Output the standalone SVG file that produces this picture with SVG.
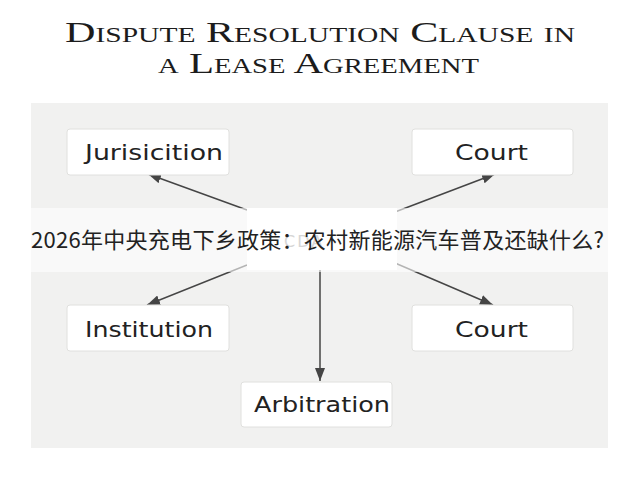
<svg xmlns="http://www.w3.org/2000/svg" width="640" height="480" viewBox="0 0 640 480">
<style>
.title{font-family:"Liberation Serif","Times New Roman",serif;font-size:30px;font-variant:small-caps;fill:#1c1c1c}
.box{fill:#ffffff;stroke:#e0e0de;stroke-width:1}
.lbl{font-family:"DejaVu Sans","Noto Sans",sans-serif;font-size:21px;fill:#222;text-anchor:middle}
.con{stroke:#454545;stroke-width:1.5;fill:none;marker-end:url(#ah)}
.cn{font-family:"Noto Sans CJK SC","Noto Sans",sans-serif;font-size:22px;fill:#222}
</style>
<defs>
<marker id="ah" markerUnits="userSpaceOnUse" markerWidth="14" markerHeight="10" refX="13" refY="5" orient="auto">
<path d="M0,0 L13,5 L0,10 z" fill="#454545"/>
</marker>
</defs>
<rect width="640" height="480" fill="#ffffff"/>
<text class="title" x="65" y="42" textLength="510" lengthAdjust="spacingAndGlyphs">Dispute Resolution Clause in</text>
<text class="title" x="158" y="73" textLength="321" lengthAdjust="spacingAndGlyphs">a Lease Agreement</text>
<rect x="31" y="103" width="577" height="345" fill="#f1f1f0"/>
<g id="connectors">
<line class="con" x1="247" y1="210" x2="148" y2="174"/>
<line class="con" x1="395" y1="212" x2="495" y2="174"/>
<line class="con" x1="247" y1="265" x2="147" y2="305"/>
<line class="con" x1="395" y1="263" x2="493" y2="305"/>
<line class="con" x1="320" y1="270" x2="320" y2="381"/>
</g>
<g id="node-center">
<rect x="247" y="208" width="150" height="62" fill="#ffffff"/>
</g>
<g id="node-jurisdiction">
<rect class="box" x="67" y="129" width="162" height="46" rx="3"/>
<text class="lbl" x="154" y="160" textLength="138" lengthAdjust="spacingAndGlyphs">Jurisicition</text>
</g>
<g id="node-court-top">
<rect class="box" x="412" y="129" width="161" height="46" rx="3"/>
<text class="lbl" x="491.5" y="160" textLength="73" lengthAdjust="spacingAndGlyphs">Court</text>
</g>
<g id="node-institution">
<rect class="box" x="67" y="305" width="162" height="46" rx="3"/>
<text class="lbl" x="149" y="337" textLength="128" lengthAdjust="spacingAndGlyphs">Institution</text>
</g>
<g id="node-court-bottom">
<rect class="box" x="412" y="305" width="161" height="46" rx="3"/>
<text class="lbl" x="491.5" y="337" textLength="73" lengthAdjust="spacingAndGlyphs">Court</text>
</g>
<g id="node-arbitration">
<rect class="box" x="241" y="382" width="151" height="45" rx="3"/>
<text class="lbl" x="322" y="412" textLength="136" lengthAdjust="spacingAndGlyphs">Arbitration</text>
</g>
<rect x="31" y="208" width="577" height="64" fill="#ffffff" fill-opacity="0.6"/>
<text x="284" y="247" font-family="DejaVu Sans,sans-serif" font-size="16" fill="#d6d6d6" letter-spacing="2">CDA</text>
<text class="cn" x="31" y="248" textLength="573" lengthAdjust="spacing">2026年中央充电下乡政策：农村新能源汽车普及还缺什么?</text>
</svg>
